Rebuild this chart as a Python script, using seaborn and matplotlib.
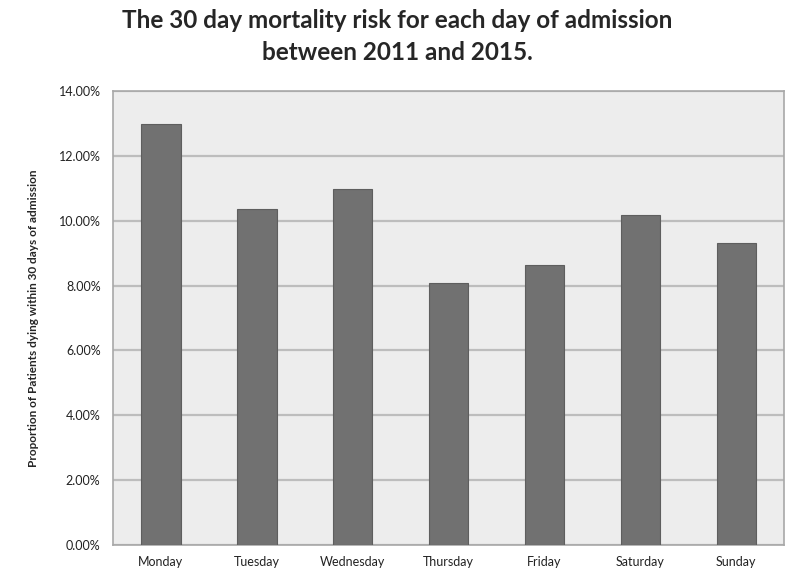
import matplotlib
matplotlib.use("Agg")
import matplotlib.pyplot as plt
import seaborn as sns
import pandas as pd
from matplotlib.ticker import FuncFormatter

days = ["Monday", "Tuesday", "Wednesday", "Thursday", "Friday", "Saturday", "Sunday"]
mortality = [13.0, 10.37, 10.97, 8.07, 8.65, 10.18, 9.33]
yticks = [0, 2, 4, 6, 8, 10, 12, 14]

df = pd.DataFrame({"day": days, "risk": mortality})

sns.set_style("white")
plt.rcParams["font.family"] = ["Lato", "DejaVu Sans"]

fig = plt.figure(figsize=(7.87, 5.70), dpi=100)
ax = fig.add_axes([0.1436, 0.044, 0.853, 0.796])
ax.set_facecolor("#ededed")

sns.barplot(data=df, x="day", y="risk", color="#717171", width=0.41,
            edgecolor="#5e5e5e", linewidth=0.8, saturation=1, ax=ax, zorder=3)

ax.set_ylim(0, 14)
ax.set_xlim(-0.5, 6.5)
ax.set_yticks(yticks)
ax.yaxis.set_major_formatter(FuncFormatter(lambda v, p: f"{v:.2f}%"))
ax.grid(axis="y", color="#bdbdbd", linewidth=1.6, zorder=0)
ax.set_axisbelow(True)
for s in ax.spines.values():
    s.set_color("#a8a8a8")
    s.set_linewidth(1.2)
ax.tick_params(axis="both", length=0, labelsize=9, colors="#222222")
ax.tick_params(axis="x", pad=8)
ax.tick_params(axis="y", pad=9)
ax.set_xlabel("")
ax.set_ylabel("Proportion of Patients dying within 30 days of admission",
              fontsize=8.5, fontweight="bold", labelpad=14)

fig.text(0.505, 0.985, "The 30 day mortality risk for each day of admission\nbetween 2011 and 2015.",
         ha="center", va="top", fontsize=17.5, fontweight="bold", linespacing=1.5)

fig.savefig("out.png", dpi=100)
